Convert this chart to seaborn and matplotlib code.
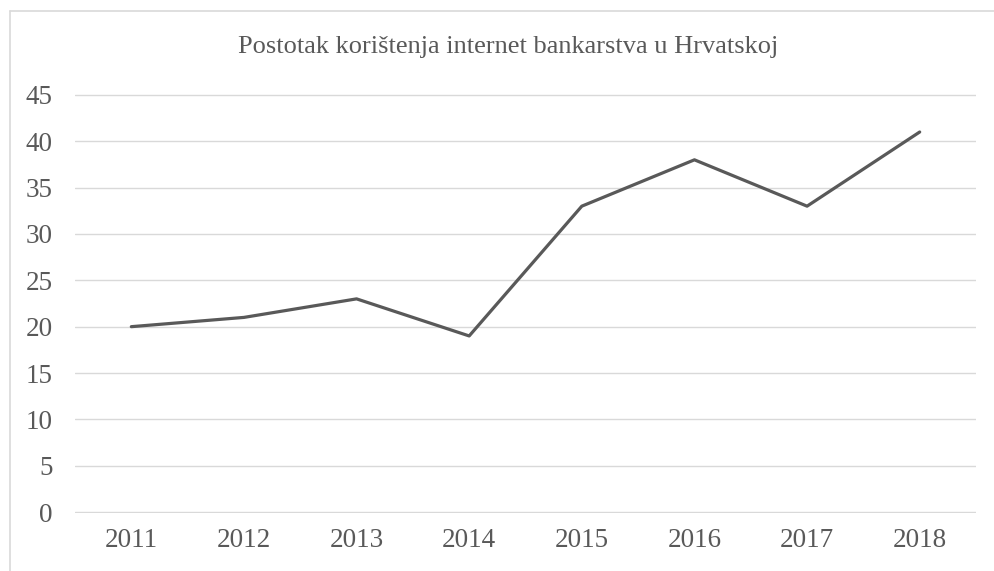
import seaborn as sns
import matplotlib.pyplot as plt
import pandas as pd
from matplotlib.lines import Line2D

sns.set_style("white")
plt.rcParams['font.family'] = ['Liberation Serif', 'DejaVu Serif']

years = ['2011', '2012', '2013', '2014', '2015', '2016', '2017', '2018']
usage = [20, 21, 23, 19, 33, 38, 33, 41]
y_ticks = [0, 5, 10, 15, 20, 25, 30, 35, 40, 45]

data = pd.DataFrame({'Godina': years, 'Postotak': usage})

fig = plt.figure(figsize=(9.95, 5.71), dpi=100)
ax = fig.add_axes([75 / 995, 58 / 571, 901 / 995, 419 / 571])

sns.lineplot(data=data, x='Godina', y='Postotak', ax=ax,
             color='#595959', linewidth=2.3, sort=False)

ax.set_xlim(-0.5, len(years) - 0.5)
ax.set_ylim(-0.1, 45.1)
ax.set_yticks(y_ticks)
ax.yaxis.grid(True, color='#d9d9d9', linewidth=1.0)
ax.xaxis.grid(False)
for s in ax.spines.values():
    s.set_visible(False)
ax.tick_params(axis='both', length=0, labelsize=19.5, labelcolor='#595959')
ax.tick_params(axis='y', pad=16)
ax.tick_params(axis='x', pad=11)
ax.set_xlabel('')
ax.set_ylabel('')

fig.text(0.5105, 1 - 47 / 571, 'Postotak korištenja internet bankarstva u Hrvatskoj',
         ha='center', va='center', fontsize=19, color='#595959')

# chart frame: only left and top edges fall inside the picture
fig.add_artist(Line2D([9.5 / 995, 9.5 / 995], [0, 1 - 10.5 / 571],
                      color='#d9d9d9', linewidth=1.2, transform=fig.transFigure))
fig.add_artist(Line2D([9.5 / 995, 1], [1 - 10.5 / 571, 1 - 10.5 / 571],
                      color='#d9d9d9', linewidth=1.2, transform=fig.transFigure))

fig.savefig('out.png', dpi=100)
plt.close(fig)
